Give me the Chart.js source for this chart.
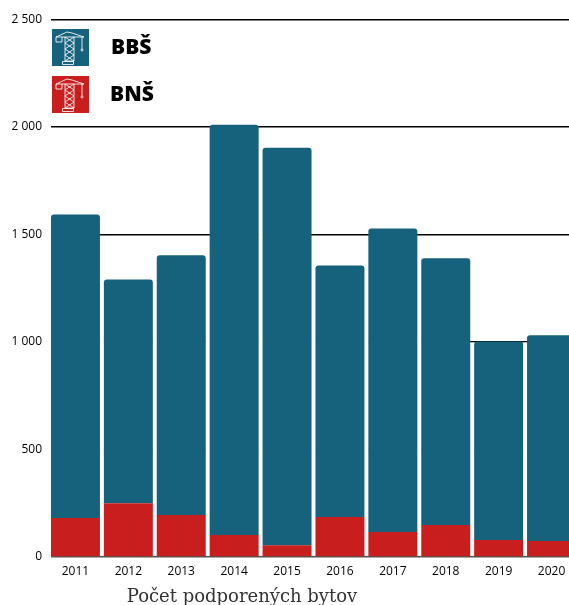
<!DOCTYPE html>
<html><head><meta charset="utf-8">
<style>html,body{margin:0;padding:0;background:#fff;overflow:hidden;width:569px;height:605px}canvas{display:block}</style>
<script src="https://cdn.jsdelivr.net/npm/chart.js@4"></script></head>
<body><canvas id="c" width="580" height="605"></canvas>
<script>
const categories=["2011","2012","2013","2014","2015","2016","2017","2018","2019","2020"];
const bnsValues=[181,250,195,102,55,186,116,149,79,74];
const bbsValues=[1412,1041,1208,1909,1849,1170,1412,1240,923,957];
const seriesNames=["BNŠ","BBŠ"];
const axisTitle="Počet podporených bytov";
const TEAL="#16617C",RED="#C81E1E";

function crane(ctx,x,y){
  ctx.save();ctx.translate(x,y);ctx.strokeStyle="rgba(255,255,255,.85)";ctx.lineWidth=1;ctx.lineJoin="round";
  const L=(p)=>{ctx.beginPath();p.forEach((q,i)=>i?ctx.lineTo(q[0],q[1]):ctx.moveTo(q[0],q[1]));ctx.stroke();};
  L([[4,8],[4,13],[10,13],[10,8]]);
  L([[4,8],[15,3],[20,4],[32,8],[4,8]]);
  L([[13,8],[13,32],[22,32],[22,8]]);
  L([[13,8],[22,14],[13,20],[22,26],[13,32]]);
  L([[22,8],[13,14],[22,20],[13,26],[22,32]]);
  ctx.strokeRect(10.5,32.5,11,3);
  L([[30,8],[30,20]]);
  ctx.beginPath();ctx.arc(30,21,1,0,6.3);ctx.stroke();
  ctx.restore();
}
const extras={id:"extras",
  beforeDatasetsDraw(ch){
    const c=ch.ctx,a=ch.chartArea;
    c.save();c.fillStyle="#fff";
    c.fillRect(a.left-1,a.top-2,3,a.bottom-a.top+4);
    const bars=ch.getDatasetMeta(1).data.map(b=>b.getProps(["x","y","width"],true));
    for(let i=0;i<bars.length-1;i++){
      const l=bars[i].x+bars[i].width/2-0.5,r=bars[i+1].x-bars[i+1].width/2+0.5;
      const t=Math.max(bars[i].y,bars[i+1].y)+1;
      c.fillRect(l,t,r-l,a.bottom-1-t);
    }
    c.restore();
  },
  afterDraw(ch){
    const c=ch.ctx;
    c.save();
    c.fillStyle=TEAL;c.fillRect(52,29,37,37);crane(c,52,29);
    c.fillStyle=RED;c.fillRect(52,76,37,37);crane(c,52,76);
    c.fillStyle="#000";c.textBaseline="middle";c.textAlign="left";
    c.font="800 21px 'Open Sans'";
    c.fillText(seriesNames[1],111,48);
    c.fillText(seriesNames[0],110,95);
    c.fillStyle="#333";c.textAlign="center";c.font="18px 'DejaVu Serif'";
    c.fillText(axisTitle,242,597);
    c.restore();
  }
};
new Chart(document.getElementById("c"),{
  type:"bar",
  data:{labels:categories,datasets:[
    {label:seriesNames[0],data:bnsValues,backgroundColor:RED,borderWidth:0},
    {label:seriesNames[1],data:bbsValues,backgroundColor:TEAL,borderWidth:0,borderRadius:{topLeft:3,topRight:3,bottomLeft:0,bottomRight:0},borderSkipped:false}
  ]},
  options:{responsive:false,animation:false,
    layout:{padding:{top:19.5,right:2,left:0,bottom:0}},
    plugins:{legend:{display:false},tooltip:{enabled:false}},
    datasets:{bar:{barPercentage:0.926,categoryPercentage:1}},
    scales:{
      x:{stacked:true,grid:{display:false,drawTicks:false},border:{display:false},
        ticks:{color:"#000",font:{family:"'Open Sans'",size:12},padding:7,maxRotation:0},
        afterFit(s){s.height=48;}},
      y:{stacked:true,min:0,max:2500,
        afterBuildTicks(s){s.ticks=[0,500,1000,1500,2000,2500].map(v=>({value:v}));},
        afterFit(s){s.width=49;},
        border:{display:false},
        grid:{drawTicks:false,lineWidth:1.5,color:(ctx)=>ctx.tick&&ctx.tick.value===0?"#555":"#000"},
        ticks:{color:"#000",padding:7,font:{family:"'Open Sans'",size:12},
          callback:(v)=>v>=1000?Math.floor(v/1000)+" "+String(v%1000).padStart(3,"0"):String(v)}}
    }},
  plugins:[extras]
});
</script></body></html>
